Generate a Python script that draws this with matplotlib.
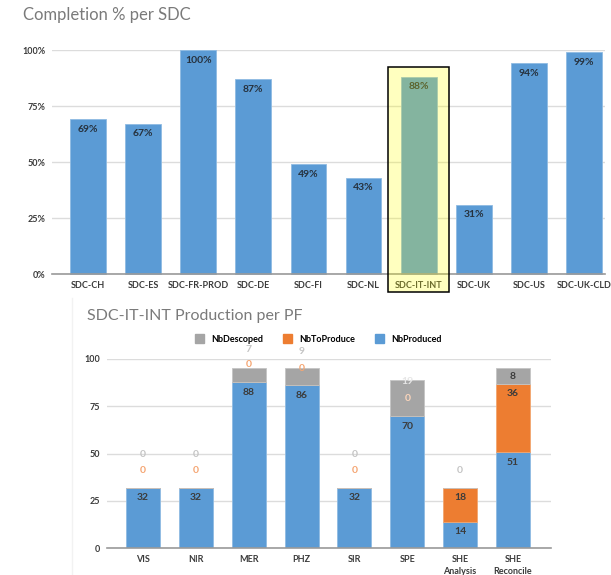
import numpy as np
import matplotlib
matplotlib.use("Agg")
import matplotlib.pyplot as plt
from matplotlib.patches import Rectangle
from matplotlib.lines import Line2D

# Top chart data
sdc_names = ["SDC-CH", "SDC-ES", "SDC-FR-PROD", "SDC-DE", "SDC-FI", "SDC-NL",
             "SDC-IT-INT", "SDC-UK", "SDC-US", "SDC-UK-CLD"]
completion = [69, 67, 100, 87, 49, 43, 88, 31, 94, 99]
highlight = "SDC-IT-INT"

# Bottom chart data
pf_names = ["VIS", "NIR", "MER", "PHZ", "SIR", "SPE", "SHE\nAnalysis", "SHE\nReconcile"]
nb_produced = [32, 32, 88, 86, 32, 70, 14, 51]
nb_to_produce = [0, 0, 0, 0, 0, 0, 18, 36]
nb_descoped = [0, 0, 7, 9, 0, 19, 0, 8]

# where the chart tool put the labels of the upper segments (data units)
to_produce_label_y = [41, 41, 97, 95, 41, 79, 26.5, 82]
descoped_label_y = [49.5, 49.5, 105, 104, 49.5, 88, 41, 91]

BLUE = "#5B9BD5"
ORANGE = "#ED7D31"
GREY = "#A5A5A5"
DARK = "#3b3b3b"
TITLE = "#7a7a7a"

plt.rcParams['font.family'] = ['Lato', 'DejaVu Sans']

fig = plt.figure(figsize=(6.11, 5.75), dpi=100)
W, H = 611, 575


def axes_px(left, right, top, bottom):
    return fig.add_axes([left / W, 1 - bottom / H, (right - left) / W, (bottom - top) / H])


# ---- Completion % per SDC
ax1 = axes_px(52, 605, 50, 274)
x1 = np.arange(len(sdc_names))
ax1.bar(x1, completion, width=0.65, color=BLUE, edgecolor="#8fbbe3", linewidth=0.6,
        zorder=2, clip_on=False)
for xi, v in zip(x1, completion):
    ax1.text(xi, v - 4.5, f"{v}%", ha="center", va="center", fontsize=7.5,
             fontweight="bold", color="#26313d", zorder=3)
ax1.set_xlim(-0.653, len(sdc_names) - 1 + 0.381)
ax1.set_ylim(0, 100)
ax1.set_yticks([0, 25, 50, 75, 100])
ax1.set_yticklabels(["0%", "25%", "50%", "75%", "100%"])
ax1.set_xticks(x1)
ax1.set_xticklabels(sdc_names)
ax1.grid(axis="y", color="#dcdcdc", linewidth=1, zorder=0)
for s in ["top", "right", "left"]:
    ax1.spines[s].set_visible(False)
ax1.spines["bottom"].set_color("#9a9a9a")
ax1.spines["bottom"].set_linewidth(1.2)
ax1.tick_params(length=0, labelsize=6.5, colors=DARK, pad=5)
for lab in ax1.get_xticklabels() + ax1.get_yticklabels():
    lab.set_fontweight("bold")

# highlight box over SDC-IT-INT
hi = sdc_names.index(highlight)
ax1.add_patch(Rectangle((hi - 0.55, -8), 1.1, completion[hi] + 12.5,
                        facecolor=(1, 1, 0, 0.25), edgecolor="black", linewidth=1.1,
                        zorder=5, clip_on=False))

fig.text(23 / W, 1 - 15 / H, "Completion % per SDC", fontsize=12, color=TITLE,
         ha="left", va="center")

# ---- SDC-IT-INT Production per PF
ax2 = axes_px(107, 551, 359, 548)
x2 = np.arange(len(pf_names))
prod = np.array(nb_produced)
todo = np.array(nb_to_produce)
desc = np.array(nb_descoped)
ax2.bar(x2, prod, width=0.643, color=BLUE, edgecolor="#8fbbe3", linewidth=0.6, zorder=2)
ax2.bar(x2, todo, bottom=prod, width=0.643, color=ORANGE, edgecolor="#f2a66f",
        linewidth=0.6, zorder=2)
ax2.bar(x2, desc, bottom=prod + todo, width=0.643, color=GREY, edgecolor="#c4c4c4",
        linewidth=0.6, zorder=2)

lbl = dict(ha="center", va="center", fontsize=7.5, fontweight="bold")
for i in range(len(pf_names)):
    ax2.text(x2[i], prod[i] - 5.5, str(prod[i]), color=DARK, zorder=4, **lbl)
    top_todo = prod[i] + todo[i]
    top_all = top_todo + desc[i]
    # orange labels: dark inside their own segment, pale when over the grey one
    if todo[i] > 0:
        c_todo = DARK
    elif desc[i] > 0 and to_produce_label_y[i] < top_all:
        c_todo = "#fbd5bb"
    else:
        c_todo = "#f5a572"
    ax2.text(x2[i], to_produce_label_y[i], str(todo[i]), zorder=4, color=c_todo, **lbl)
    if desc[i] > 0 and descoped_label_y[i] < top_all:
        c_desc = "#e6e6e6" if desc[i] > 10 else DARK
    else:
        c_desc = "#c4c4c4"
    ax2.text(x2[i], descoped_label_y[i], str(desc[i]), zorder=4, color=c_desc, **lbl)

ax2.set_xlim(-0.681, len(pf_names) - 1 + 0.719)
ax2.set_ylim(0, 100)
ax2.set_yticks([0, 25, 50, 75, 100])
ax2.set_xticks(x2)
ax2.set_xticklabels(pf_names)
ax2.grid(axis="y", color="#dcdcdc", linewidth=1, zorder=0)
for s in ["top", "right", "left"]:
    ax2.spines[s].set_visible(False)
ax2.spines["bottom"].set_color("#9a9a9a")
ax2.spines["bottom"].set_linewidth(1.2)
ax2.tick_params(length=0, labelsize=6.5, colors=DARK, pad=5)
for lab in ax2.get_xticklabels() + ax2.get_yticklabels():
    lab.set_fontweight("bold")
    lab.set_linespacing(1.5)

fig.text(87 / W, 1 - 316 / H, "SDC-IT-INT Production per PF", fontsize=11.5,
         color=TITLE, ha="left", va="center")

handles = [Rectangle((0, 0), 1, 1, color=GREY), Rectangle((0, 0), 1, 1, color=ORANGE),
           Rectangle((0, 0), 1, 1, color=BLUE)]
fig.legend(handles, ["NbDescoped", "NbToProduce", "NbProduced"], ncol=3, frameon=False,
           loc="center", bbox_to_anchor=(318 / W, 1 - 339 / H),
           handlelength=1.0, handleheight=1.0, columnspacing=2.2, handletextpad=0.8,
           prop={"weight": "bold", "size": 6.5})

# faint chart border of the lower panel
fig.add_artist(Line2D([72 / W, 72 / W], [0, 1 - 298 / H], transform=fig.transFigure,
                      color="#f2f2f2", linewidth=1))

fig.savefig("out.png", dpi=100, facecolor="white")
